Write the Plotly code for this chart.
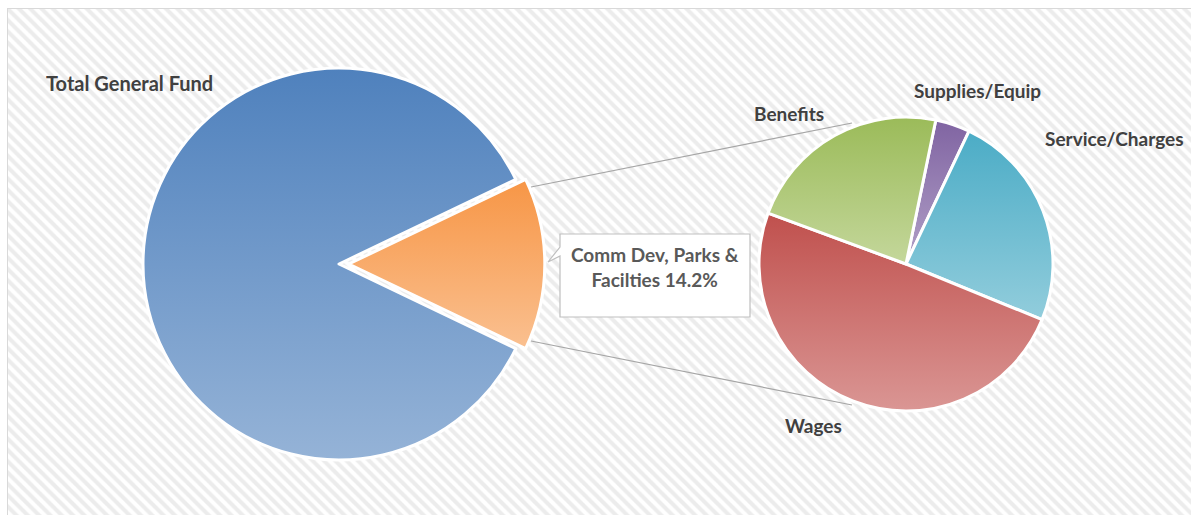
import json
import plotly.graph_objects as go

# ---------------- data ----------------
main_labels = ["Comm Dev, Parks & Facilties", "Total General Fund"]
main_values = [14.2, 85.8]
main_top = ["#F79646", "#4F81BD"]
main_bottom = ["#FAC090", "#95B3D7"]
main_mid = ["#F8AB6B", "#7399C9"]

sub_labels = ["Supplies/Equip", "Service/Charges", "Wages", "Benefits"]
sub_values = [3.8, 24.1, 49.4, 22.6]
sub_top = ["#8064A2", "#4BACC6", "#C0504D", "#9BBB59"]
sub_bottom = ["#B1A0C7", "#92CDDC", "#DA9694", "#C4D79B"]
sub_mid = ["#9882B4", "#6EBDD1", "#CD7370", "#B0C97A"]

# ---------------- geometry (pixels) ----------------
W, H = 1191, 515
ML, MT = 7, 8
GW, GH = W - ML, H - MT

def domain(cx, cy, r, pull):
    half = r * (1 + pull)
    return dict(x=[(cx - half - ML) / GW, (cx + half - ML) / GW],
                y=[1 - (cy + half - MT) / GH, 1 - (cy - half - MT) / GH])

main_pull = 0.05
main_share = main_values[0] / sum(main_values)
main_rotation = 90 - 360 * main_share / 2

fig = go.Figure()

# hatched background
fig.add_trace(go.Scatter(
    x=[ML, W + 5, W + 5, ML, ML], y=[MT, MT, H + 5, H + 5, MT], mode="lines", fill="toself",
    line=dict(width=0, color="rgba(0,0,0,0)"),
    fillcolor="white",
    fillpattern=dict(shape="\\", size=8, solidity=0.5, fgcolor="#D9D9D9", bgcolor="white"),
    hoverinfo="skip", showlegend=False, cliponaxis=True))

fig.add_trace(go.Pie(
    labels=main_labels, values=main_values, sort=False, direction="clockwise",
    rotation=main_rotation, pull=[main_pull, 0],
    marker=dict(colors=main_mid, line=dict(color="white", width=3)),
    textinfo="none", hoverinfo="none", showlegend=False,
    domain=domain(339, 264, 196, main_pull)))

fig.add_trace(go.Pie(
    labels=sub_labels, values=sub_values, sort=False, direction="clockwise",
    rotation=11.7,
    marker=dict(colors=sub_mid, line=dict(color="white", width=3)),
    textinfo="none", hoverinfo="none", showlegend=False,
    domain=domain(906, 264, 147, 0)))

# chart border (top / left visible)
fig.add_shape(type="path", path=f"M{ML},{H} L{ML},{MT} L{W},{MT}",
              line=dict(color="#D9D9D9", width=2), xref="x", yref="y", layer="above")

# connector lines
for (x0, y0, x1, y1) in [(531, 187, 852, 123), (531, 341, 852, 405)]:
    fig.add_shape(type="line", x0=x0, y0=y0, x1=x1, y1=y1, xref="x", yref="y",
                  line=dict(color="#A6A6A6", width=1.2), layer="above")

# callout box for the exploded slice
fig.add_shape(type="path", xref="x", yref="y", layer="above",
              path="M560,234 L750,234 L750,317 L560,317 L560,256 L548,262 L560,247 Z",
              fillcolor="white", line=dict(color="#BFBFBF", width=1.2))

FONT = "Lato, 'Open Sans', sans-serif"
lab = dict(family=FONT, size=19, color="#404040")

fig.add_annotation(x=655, y=267, xref="x", yref="y", showarrow=False,
                   text=f"<b>Comm Dev, Parks &amp;<br>Facilties {main_values[0]:.1f}%</b>",
                   align="center", font=dict(family=FONT, size=19, color="#595959"))

label_pos = {
    "Total General Fund": (44, 83),
    "Benefits": (752, 113),
    "Supplies/Equip": (912, 90),
    "Service/Charges": (1043, 138),
    "Wages": (783, 425),
}
for t, (x, y) in label_pos.items():
    fig.add_annotation(x=x, y=y, xref="x", yref="y", xanchor="left", yanchor="middle",
                       showarrow=False, text=f"<b>{t}</b>",
                       font=dict(lab, size=20) if t == "Total General Fund" else lab)

fig.update_layout(
    width=W, height=H, margin=dict(l=ML, r=0, t=MT, b=0, pad=0),
    paper_bgcolor="white", plot_bgcolor="white", showlegend=False,
    xaxis=dict(range=[ML, W], visible=False, fixedrange=True),
    yaxis=dict(range=[H, MT], visible=False, fixedrange=True),
)

grads = [[list(p) for p in zip(main_top, main_bottom)],
         [list(p) for p in zip(sub_top, sub_bottom)]]

post = """
document.body.style.margin = '0';
var gd = document.querySelector('.plotly-graph-div');
var ns = 'http://www.w3.org/2000/svg';
var svg = gd.querySelector('.main-svg');
var defs = svg.querySelector('defs');
if (!defs) { defs = document.createElementNS(ns, 'defs'); svg.insertBefore(defs, svg.firstChild); }
var grads = GRADS;
gd.querySelectorAll('.pielayer .trace').forEach(function(tr, ti) {
  tr.querySelectorAll('.slice path.surface').forEach(function(p, si) {
    var g = grads[ti] && grads[ti][si];
    if (!g) return;
    var id = 'pg' + ti + '_' + si;
    var lg = document.createElementNS(ns, 'linearGradient');
    lg.setAttribute('id', id);
    lg.setAttribute('x1', '0'); lg.setAttribute('y1', '0');
    lg.setAttribute('x2', '0'); lg.setAttribute('y2', '1');
    [[0, g[0]], [1, g[1]]].forEach(function(s) {
      var st = document.createElementNS(ns, 'stop');
      st.setAttribute('offset', s[0]);
      st.setAttribute('stop-color', s[1]);
      lg.appendChild(st);
    });
    defs.appendChild(lg);
    p.style.fill = 'url(#' + id + ')';
  });
});
""".replace("GRADS", json.dumps(grads))

fig.write_html("out.html", post_script=post, config={"displayModeBar": False})
